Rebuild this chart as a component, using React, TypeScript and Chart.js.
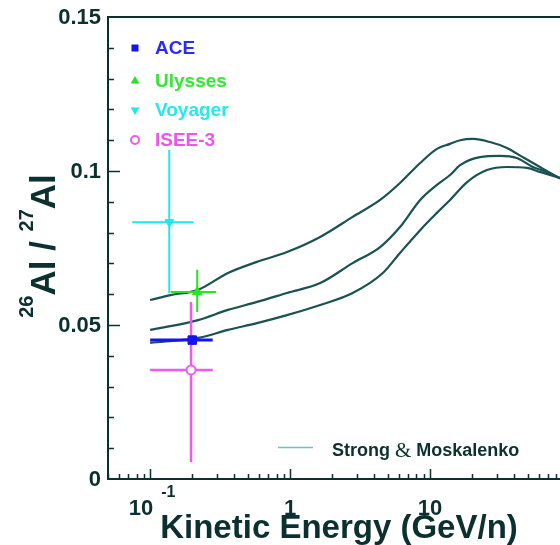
import React, { useEffect, useRef } from 'react';
import { Chart, registerables } from 'chart.js';

Chart.register(...registerables);

// ---- Model curves (Strong & Moskalenko) ----
const energyTop = [0.1, 0.14, 0.22, 0.36, 0.58, 0.95, 1.64, 2.8, 4.4, 6.1, 8.5, 11.2, 13.9, 16.4, 20.4, 26.8, 35.4, 46, 61, 84.5, 100];
const ratioTop = [0.0581, 0.0597, 0.0614, 0.0669, 0.0705, 0.0737, 0.0786, 0.0851, 0.0906, 0.0961, 0.1026, 0.1072, 0.1088, 0.11, 0.1104, 0.1094, 0.1075, 0.1045, 0.1013, 0.0977, 0.096];

const energyMid = [0.1, 0.22, 0.36, 0.58, 0.95, 1.64, 2.8, 4.4, 6.1, 8.5, 11.2, 13.9, 16.4, 22.7, 31.6, 41.7, 54.3, 68.3, 84.5, 100];
const ratioMid = [0.0484, 0.0516, 0.0549, 0.0575, 0.0604, 0.0636, 0.0701, 0.0753, 0.0818, 0.0906, 0.0955, 0.0987, 0.1019, 0.1045, 0.1049, 0.1042, 0.1013, 0.0997, 0.0977, 0.0962];

const energyBot = [0.1, 0.22, 0.36, 0.58, 0.95, 1.64, 2.8, 4.6, 6.1, 8.5, 11.2, 13.9, 18.4, 25.5, 35.4, 49.2, 60.9, 84.5, 100];
const ratioBot = [0.0442, 0.0458, 0.0484, 0.0506, 0.0532, 0.0565, 0.0604, 0.0669, 0.0734, 0.0808, 0.0864, 0.0906, 0.0964, 0.1003, 0.1013, 0.101, 0.0997, 0.0977, 0.0962];

// ---- Measurements ----
const expNames = ['ACE', 'Ulysses', 'Voyager', 'ISEE-3'];
const expEnergy = [0.2, 0.217, 0.137, 0.196];
const expRatio = [0.0451, 0.0607, 0.0834, 0.0354];
const expEnergyLow = [0.1, 0.14, 0.0745, 0.1];
const expEnergyHigh = [0.28, 0.296, 0.203, 0.28];
const expRatioLow = [0.0436, 0.0542, 0.0604, 0.0055];
const expRatioHigh = [0.0466, 0.0679, 0.1068, 0.0575];
const expColors = ['#1414f0', '#22e622', '#1ee8ee', '#ee5aee'];
const expTextColors = ['#2a2aff', '#33e833', '#22eaee', '#ee55ee'];
const expStyles = ['rect', 'triangle', 'triangle', 'circle'];
const expRotation = [0, 0, 180, 0];
const expRadius = [6, 5.5, 5, 4.5];
const expBarWidth = [3, 2, 2, 2.5];

// ---- Axes ----
const xMin = 0.05;
const xMax = 100;
const yMin = 0;
const yMax = 0.15;
const yTickValues = [0, 0.05, 0.1, 0.15];
const yTickLabels = ['0', '0.05', '0.1', '0.15'];
const yMinorTicks = [0.01, 0.02, 0.03, 0.04, 0.06, 0.07, 0.08, 0.09, 0.11, 0.12, 0.13, 0.14];
const xMajorTicks = [0.1, 1, 10];
const xTickBases = ['10', '1', '10'];
const xTickExponents = ['-1', '', ''];
const xDecades = [0.01, 0.1, 1, 10];
const xMinorMultipliers = [2, 3, 4, 5, 6, 7, 8, 9];

const INK = '#0c3030';
const CURVE = '#1a5252';
const FONT = '"Liberation Sans", Arial, Helvetica, sans-serif';

const errorBarPlugin = {
  id: 'errorBars',
  beforeDatasetDraw(chart: any, args: any) {
    if (args.index !== expNames.length - 1) return;
    const { ctx, scales } = chart;
    const x = scales.x;
    const y = scales.y;
    ctx.save();
    ctx.lineCap = 'butt';
    for (let i = 0; i < expNames.length; i++) {
      const px = x.getPixelForValue(expEnergy[i]);
      const py = y.getPixelForValue(expRatio[i]);
      ctx.strokeStyle = expColors[i];
      ctx.lineWidth = expBarWidth[i];
      ctx.beginPath();
      ctx.moveTo(x.getPixelForValue(expEnergyLow[i]), py);
      ctx.lineTo(x.getPixelForValue(expEnergyHigh[i]), py);
      ctx.moveTo(px, y.getPixelForValue(expRatioLow[i]));
      ctx.lineTo(px, y.getPixelForValue(expRatioHigh[i]));
      ctx.stroke();
    }
    ctx.restore();
  },
};

function drawMarker(ctx: CanvasRenderingContext2D, style: string, rot: number, cx: number, cy: number, r: number, color: string) {
  ctx.save();
  ctx.fillStyle = color;
  ctx.strokeStyle = color;
  if (style === 'rect') {
    ctx.fillRect(cx - r * 0.7, cy - r * 0.7, r * 1.4, r * 1.4);
  } else if (style === 'triangle') {
    ctx.translate(cx, cy);
    ctx.rotate((rot * Math.PI) / 180);
    ctx.beginPath();
    ctx.moveTo(0, -r);
    ctx.lineTo(r * 0.87, r * 0.5);
    ctx.lineTo(-r * 0.87, r * 0.5);
    ctx.closePath();
    ctx.fill();
  } else {
    ctx.lineWidth = 2;
    ctx.beginPath();
    ctx.arc(cx, cy, r, 0, Math.PI * 2);
    ctx.stroke();
  }
  ctx.restore();
}

const framePlugin = {
  id: 'frame',
  afterDraw(chart: any) {
    const { ctx, chartArea: a, scales } = chart;
    const x = scales.x;
    const y = scales.y;
    ctx.save();
    // frame
    ctx.strokeStyle = INK;
    ctx.lineWidth = 2;
    ctx.beginPath();
    ctx.moveTo(a.right + 2, a.top);
    ctx.lineTo(a.left, a.top);
    ctx.lineTo(a.left, a.bottom);
    ctx.lineTo(a.right + 2, a.bottom);
    ctx.stroke();

    // y ticks
    ctx.lineWidth = 1.5;
    ctx.beginPath();
    for (const v of yMinorTicks) {
      const py = Math.round(y.getPixelForValue(v)) + 0.5;
      ctx.moveTo(a.left, py);
      ctx.lineTo(a.left + 6, py);
    }
    for (const v of yTickValues) {
      if (v === yMin || v === yMax) continue;
      const py = Math.round(y.getPixelForValue(v)) + 0.5;
      ctx.moveTo(a.left, py);
      ctx.lineTo(a.left + 12, py);
    }
    // x ticks
    for (const d of xDecades) {
      for (const m of xMinorMultipliers) {
        const v = d * m;
        if (v < xMin || v > xMax) continue;
        const px = Math.round(x.getPixelForValue(v)) + 0.5;
        ctx.moveTo(px, a.bottom);
        ctx.lineTo(px, a.bottom - 5);
      }
    }
    for (const v of xMajorTicks) {
      const px = Math.round(x.getPixelForValue(v)) + 0.5;
      ctx.moveTo(px, a.bottom);
      ctx.lineTo(px, a.bottom - 10);
    }
    ctx.stroke();

    // y tick labels
    ctx.fillStyle = INK;
    ctx.font = `bold 22px ${FONT}`;
    ctx.textAlign = 'right';
    ctx.textBaseline = 'middle';
    yTickValues.forEach((v, i) => {
      ctx.fillText(yTickLabels[i], a.left - 7, y.getPixelForValue(v) + 1);
    });

    // x tick labels
    ctx.textBaseline = 'alphabetic';
    xMajorTicks.forEach((v, i) => {
      const px = x.getPixelForValue(v);
      if (xTickExponents[i]) {
        ctx.font = `bold 22px ${FONT}`;
        ctx.textAlign = 'right';
        ctx.fillText(xTickBases[i], px + 3, 515);
        ctx.font = `bold 16px ${FONT}`;
        ctx.textAlign = 'left';
        ctx.fillText(xTickExponents[i], px + 11, 497);
      } else {
        ctx.font = `bold 22px ${FONT}`;
        ctx.textAlign = 'center';
        ctx.fillText(xTickBases[i], px, 515);
      }
    });

    // x title
    ctx.font = `bold 33px ${FONT}`;
    ctx.textAlign = 'center';
    ctx.fillText('Kinetic Energy (GeV/n)', 339, 538);

    // y title (rotated, with superscripts)
    ctx.save();
    ctx.translate(55, 246);
    ctx.rotate(-Math.PI / 2);
    const parts: [string, boolean][] = [['26', true], ['Al / ', false], ['27', true], ['Al', false]];
    const bigFont = `bold 35px ${FONT}`;
    const smallFont = `bold 20px ${FONT}`;
    let total = 0;
    for (const [t, sup] of parts) {
      ctx.font = sup ? smallFont : bigFont;
      total += ctx.measureText(t).width;
    }
    let u = -total / 2;
    ctx.textAlign = 'left';
    for (const [t, sup] of parts) {
      ctx.font = sup ? smallFont : bigFont;
      ctx.fillText(t, u, sup ? -22 : 0);
      u += ctx.measureText(t).width;
    }
    ctx.restore();

    // legend (top-left)
    const legendY = [48, 81, 110, 140];
    ctx.font = `bold 19px ${FONT}`;
    ctx.textAlign = 'left';
    ctx.textBaseline = 'middle';
    expNames.forEach((name, i) => {
      drawMarker(ctx, expStyles[i], expRotation[i], 135, legendY[i], expStyles[i] === 'circle' ? 4 : 5, expColors[i]);
      ctx.fillStyle = expTextColors[i];
      ctx.fillText(name, 155, legendY[i] + 1);
    });

    // legend (model)
    ctx.strokeStyle = '#7cbcbc';
    ctx.lineWidth = 1.5;
    ctx.beginPath();
    ctx.moveTo(278, 447.5);
    ctx.lineTo(313, 447.5);
    ctx.stroke();
    ctx.fillStyle = INK;
    let tx = 332;
    const segs: [string, string][] = [
      ['Strong ', `bold 18px ${FONT}`],
      ['&', `21px "Liberation Serif", "Times New Roman", serif`],
      [' Moskalenko', `bold 18px ${FONT}`],
    ];
    for (const [t, f] of segs) {
      ctx.font = f;
      ctx.fillText(t, tx, 451);
      tx += ctx.measureText(t).width;
    }
    ctx.restore();
  },
};

export default function App() {
  const ref = useRef<HTMLCanvasElement>(null);

  useEffect(() => {
    const canvas = ref.current;
    if (!canvas) return;
    const markerSets = expNames.map((name, i) => ({
      type: 'scatter' as const,
      label: name,
      data: [{ x: expEnergy[i], y: expRatio[i] }],
      pointStyle: expStyles[i] as any,
      pointRotation: expRotation[i],
      pointRadius: expRadius[i],
      pointBackgroundColor: expStyles[i] === 'circle' ? '#ffffff' : expColors[i],
      pointBorderColor: expColors[i],
      pointBorderWidth: expStyles[i] === 'circle' ? 2 : 1,
      showLine: false,
      order: 0,
    }));
    const curve = (xs: number[], ys: number[], label: string) => ({
      type: 'scatter' as const,
      label,
      data: xs.map((e, i) => ({ x: e, y: ys[i] })),
      showLine: true,
      borderColor: CURVE,
      borderWidth: 2.2,
      pointRadius: 0,
      cubicInterpolationMode: 'monotone' as const,
      order: 1,
    });
    const chart = new Chart(canvas, {
      type: 'scatter',
      data: {
        datasets: [
          ...markerSets,
          curve(energyTop, ratioTop, 'model upper'),
          curve(energyMid, ratioMid, 'model mid'),
          curve(energyBot, ratioBot, 'model lower'),
        ] as any,
      },
      options: {
        responsive: false,
        animation: false,
        devicePixelRatio: 1,
        layout: { padding: { left: 108, top: 17, right: 30, bottom: 66 } },
        plugins: { legend: { display: false }, tooltip: { enabled: false } },
        scales: {
          x: { type: 'logarithmic', min: xMin, max: xMax, display: false },
          y: { type: 'linear', min: yMin, max: yMax, display: false },
        },
      },
      plugins: [errorBarPlugin, framePlugin],
    });
    return () => chart.destroy();
  }, []);

  return (
    <div style={{ position: 'fixed', left: 0, top: 0, width: 560, height: 545, overflow: 'hidden', background: '#ffffff' }}>
      <canvas ref={ref} width={600} height={545} style={{ display: 'block', width: 600, height: 545 }} />
    </div>
  );
}
